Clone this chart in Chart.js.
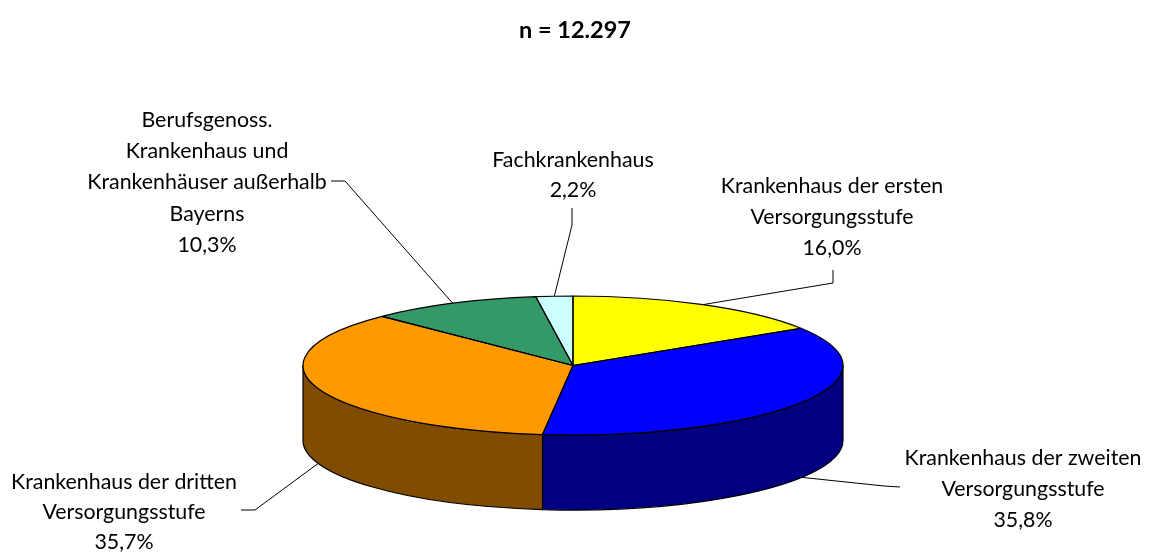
<!DOCTYPE html>
<html><head><meta charset="utf-8">
<script src="https://cdn.jsdelivr.net/npm/chart.js@4.4.0/dist/chart.umd.min.js"></script>
<style>html,body{margin:0;padding:0;background:#fff}#wrap{width:1150px;height:557px;position:relative}</style>
</head><body><div id="wrap"><canvas id="c"></canvas></div>
<script>
// ---- data ----
const categories = [
  "Krankenhaus der ersten Versorgungsstufe",
  "Krankenhaus der zweiten Versorgungsstufe",
  "Krankenhaus der dritten Versorgungsstufe",
  "Berufsgenoss. Krankenhaus und Krankenhäuser außerhalb Bayerns",
  "Fachkrankenhaus"
];
const shares = [16.0, 35.8, 35.7, 10.3, 2.2];
const labelLines = [
  ["Krankenhaus der ersten", "Versorgungsstufe"],
  ["Krankenhaus der zweiten", "Versorgungsstufe"],
  ["Krankenhaus der dritten", "Versorgungsstufe"],
  ["Berufsgenoss.", "Krankenhaus und", "Krankenhäuser außerhalb", "Bayerns"],
  ["Fachkrankenhaus"]
];
const titleText = "n = 12.297";

// ---- style ----
const topColors  = ['#FFFF00', '#0000FF', '#FF9900', '#339966', '#CCFFFF'];
const sideColors = ['#808000', '#000080', '#7F4C00', '#1A4D33', '#668080'];
const FONT = 'Lato, "Open Sans", sans-serif';
const PIE = { cx: 573, cy: 365.5, rx: 270, ry: 69.5, depth: 75 };
// label layout: text centre x, first line centre y, line step, leader start & elbow
const labelLayout = [
  { x: 832,  y: 186, step: 31, start: [833, 270], elbow: [833, 283] },
  { x: 1023, y: 458, step: 31, start: [900, 487], elbow: [884, 486] },
  { x: 124,  y: 482, step: 30, start: [241, 510], elbow: [255, 510] },
  { x: 207,  y: 120, step: 31.3, start: [331, 181], elbow: [345, 181] },
  { x: 573,  y: 160, step: 30, start: [572, 208], elbow: [572, 225] }
];

function fitSize(text, weight, target) {
  const c = document.createElement('canvas').getContext('2d');
  c.font = weight + ' 20px ' + FONT;
  return 20 * target / c.measureText(text).width;
}
const labelSize = fitSize("Krankenhaus der zweiten", 'normal', 237);
const titleSize = fitSize(titleText, 'bold', 112);

function fmt(v) { return v.toFixed(1).replace('.', ',') + '%'; }

function geom(chart) {
  const meta = chart.getDatasetMeta(0);
  const el0 = meta.data[0];
  const R = el0.outerRadius;
  return { meta, R, x0: el0.x, y0: el0.y, sx: PIE.rx / R, sy: PIE.ry / R };
}
function applyT(ctx, g) {
  ctx.translate(PIE.cx, PIE.cy);
  ctx.scale(g.sx, g.sy);
  ctx.translate(-g.x0, -g.y0);
}

const pie3d = {
  id: 'pie3d',
  beforeDatasetsDraw(chart) {
    const ctx = chart.ctx;
    const g = geom(chart);
    // side walls (front half only)
    g.meta.data.forEach((el, i) => {
      const s = el.startAngle, e = el.endAngle;
      for (let k = -1; k <= 2; k++) {
        const lo = Math.max(s, 2 * Math.PI * k), hi = Math.min(e, Math.PI + 2 * Math.PI * k);
        if (hi - lo <= 1e-6) continue;
        ctx.save();
        ctx.beginPath();
        ctx.ellipse(PIE.cx, PIE.cy, PIE.rx, PIE.ry, 0, lo, hi, false);
        ctx.ellipse(PIE.cx, PIE.cy + PIE.depth, PIE.rx, PIE.ry, 0, hi, lo, true);
        ctx.closePath();
        ctx.fillStyle = sideColors[i];
        ctx.fill();
        ctx.lineWidth = 1.2;
        ctx.strokeStyle = '#000';
        ctx.lineJoin = 'round';
        ctx.stroke();
        ctx.restore();
      }
    });
    ctx.save();
    applyT(ctx, g);
  },
  afterDatasetsDraw(chart) {
    const ctx = chart.ctx;
    ctx.restore();
    const g = geom(chart);
    // top outlines
    g.meta.data.forEach((el) => {
      ctx.save();
      applyT(ctx, g);
      ctx.beginPath();
      ctx.moveTo(g.x0, g.y0);
      ctx.arc(g.x0, g.y0, g.R, el.startAngle, el.endAngle);
      ctx.closePath();
      ctx.restore();
      ctx.save();
      ctx.lineWidth = 1.2;
      ctx.strokeStyle = '#000';
      ctx.lineJoin = 'round';
      ctx.stroke();
      ctx.restore();
    });
    // labels + leaders
    ctx.save();
    ctx.font = labelSize.toFixed(2) + 'px ' + FONT;
    ctx.fillStyle = '#000';
    ctx.textAlign = 'center';
    ctx.textBaseline = 'middle';
    g.meta.data.forEach((el, i) => {
      const L = labelLayout[i];
      const lines = labelLines[i].concat([fmt(shares[i])]);
      lines.forEach((t, j) => ctx.fillText(t, L.x, L.y + j * L.step));
      const mid = (el.startAngle + el.endAngle) / 2;
      let px = PIE.cx + PIE.rx * Math.cos(mid);
      let py = PIE.cy + PIE.ry * Math.sin(mid);
      if (Math.sin(mid) > 0) py += PIE.depth;
      ctx.beginPath();
      ctx.moveTo(L.start[0], L.start[1]);
      ctx.lineTo(L.elbow[0], L.elbow[1]);
      ctx.lineTo(px, py);
      ctx.lineWidth = 1;
      ctx.strokeStyle = '#000';
      ctx.stroke();
    });
    ctx.restore();
  }
};

new Chart(document.getElementById('c'), {
  type: 'pie',
  data: {
    labels: categories,
    datasets: [{ data: shares, backgroundColor: topColors, borderWidth: 0 }]
  },
  options: {
    responsive: true,
    maintainAspectRatio: false,
    animation: false,
    events: [],
    rotation: 0,
    layout: { padding: { top: 10, bottom: 10, left: 100, right: 100 } },
    plugins: {
      legend: { display: false },
      tooltip: { enabled: false },
      title: {
        display: true,
        text: titleText,
        color: '#000',
        font: { family: FONT, size: titleSize, weight: 'bold' },
        padding: { top: 6, bottom: 10 }
      }
    }
  },
  plugins: [pie3d]
});
</script>
</body></html>
